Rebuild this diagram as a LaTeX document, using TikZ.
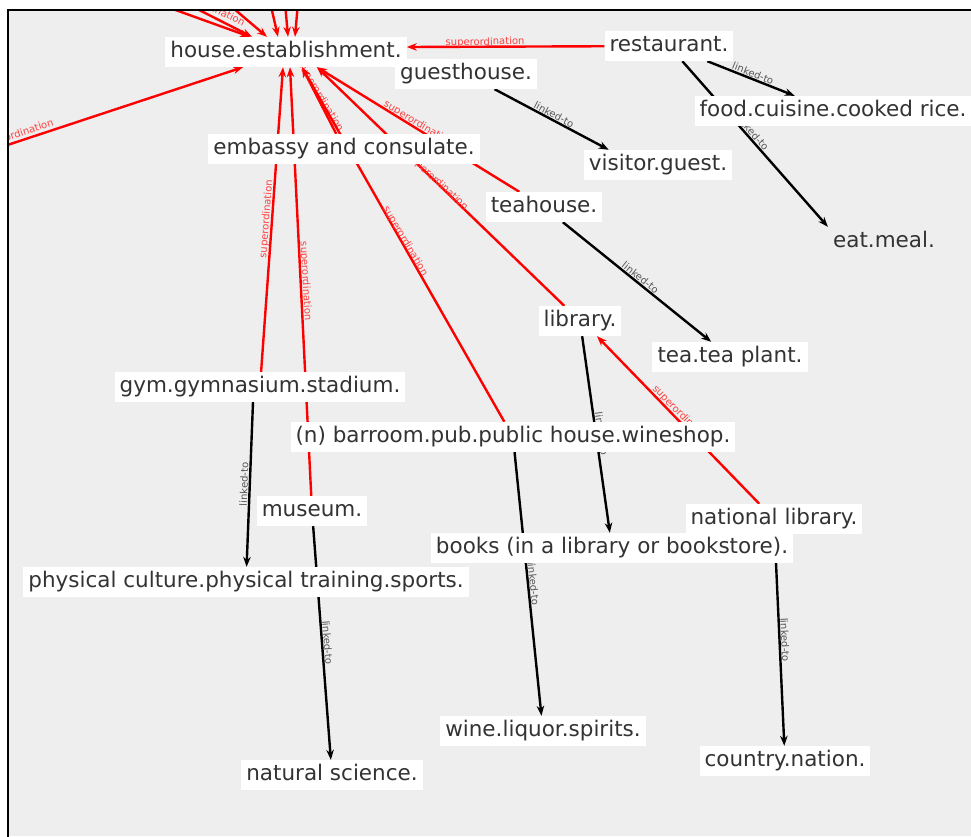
\documentclass[tikz,border=0pt]{standalone}
\usepackage{fontspec}
\setmainfont{DejaVu Sans}
\usetikzlibrary{arrows.meta}
\pgfdeclarelayer{bg}
\pgfdeclarelayer{edges}
\pgfsetlayers{bg,edges,main}
\definecolor{bggray}{HTML}{EEEEEE}
\definecolor{txt}{HTML}{333333}
\definecolor{suplab}{HTML}{FF4040}
\definecolor{linklab}{HTML}{555555}
\tikzset{
  concept/.style={fill=white, text=txt, font=\fontsize{21.5}{24}\selectfont,
    inner xsep=5pt, inner ysep=0pt, minimum height=30pt, text height=16pt, text depth=5pt, yshift=-2pt},
  plainconcept/.style={concept, fill=none},
  sup/.style={draw=red, line width=2.4pt, -{Stealth[length=10pt,width=7.5pt]}},
  link/.style={draw=black, line width=2.4pt, -{Stealth[length=10pt,width=7.5pt]}},
  suplabel/.style={font=\fontsize{10}{11}\selectfont, text=suplab, sloped, above=1.5pt, inner sep=0pt, midway},
  linklabel/.style={font=\fontsize{10}{11}\selectfont, text=linklab, sloped, above=1.5pt, inner sep=0pt, midway}
}
\begin{document}
\begin{tikzpicture}[x=1pt,y=-1pt]
\useasboundingbox (0,0) rectangle (971,836);
\begin{pgfonlayer}{bg}
  \fill[bggray] (8,10) rectangle (971,836);
\end{pgfonlayer}

% nodes
\node[concept] (house) at (286,50) {house.establishment.};
\node[concept] (restaurant) at (669,44) {restaurant.};
\node[concept] (guesthouse) at (466,72) {guesthouse.};
\node[concept] (food) at (833,109) {food.cuisine.cooked rice.};
\node[concept] (embassy) at (344,147) {embassy and consulate.};
\node[concept] (visitor) at (658,163) {visitor.guest.};
\node[concept] (teahouse) at (544,205) {teahouse.};
\node[plainconcept] (eat) at (884,240) {eat.meal.};
\node[concept] (library) at (580,319) {library.};
\node[concept] (tea) at (730,355) {tea.tea plant.};
\node[concept] (gym) at (260,385) {gym.gymnasium.stadium.};
\node[concept] (barroom) at (513,435) {(n) barroom.pub.public house.wineshop.};
\node[concept] (museum) at (312,509) {museum.};
\node[concept] (natlib) at (774,517) {national library.};
\node[concept] (books) at (612,546) {books (in a library or bookstore).};
\node[concept] (physical) at (246,580) {physical culture.physical training.sports.};
\node[concept] (wine) at (543,729) {wine.liquor.spirits.};
\node[concept] (country) at (785,759) {country.nation.};
\node[concept] (natural) at (332,773) {natural science.};

% off-frame ends
\coordinate (t1) at (120,-10);
\coordinate (t2) at (140,-20);
\coordinate (t3) at (200,-20);
\coordinate (t4) at (265,-20);
\coordinate (t5) at (283,-20);
\coordinate (t6) at (300,-20);
\coordinate (lft) at (-150,197);
\coordinate (visC) at ([xshift=-21pt]visitor.center);
\coordinate (gymC) at ([xshift=-7pt]gym.center);

\begin{pgfonlayer}{edges}
\begin{scope}
\clip (8,10) rectangle (971,836);
% superordination edges
\draw[sup] (t1) -- ([xshift=-36pt]house.north);
\draw[sup] (t2) -- ([xshift=-34pt]house.north);
\draw[sup] (t3) -- ([xshift=-19pt]house.north);
\draw[sup] (t4) -- ([xshift=-8pt]house.north);
\draw[sup] (t5) -- ([xshift=2pt]house.north);
\draw[sup] (t6) -- ([xshift=9pt]house.north);
\path (t2) -- (house.center) node[suplabel,pos=0.45] {superordination};
\draw[sup] (lft) -- ([xshift=-43pt]house.south);
\path (lft) -- (house.center) node[suplabel,pos=0.385] {superordination};
\draw[sup] (restaurant) -- ([yshift=5pt]house.east);
\path (restaurant.center) -- (house.center) node[suplabel,pos=0.48] {superordination};
\draw[sup] (embassy) -- ([xshift=16pt]house.south);
\path (embassy.center) -- (house.center) node[suplabel] {superordination};
\draw[sup] (teahouse) -- ([xshift=31pt]house.south);
\path (teahouse.center) -- (house.center) node[suplabel] {superordination};
\draw[sup] (library) -- ([xshift=31pt]house.south);
\path (library.center) -- (house.center) node[suplabel] {superordination};
\draw[sup] (barroom) -- ([xshift=16pt]house.south);
\path (barroom.center) -- (house.center) node[suplabel] {superordination};
\draw[sup] (gym) -- ([xshift=-3pt]house.south);
\path (gym.center) -- (house.center) node[suplabel] {superordination};
\draw[sup] (museum) -- ([xshift=4pt]house.south);
\path (museum.center) -- (house.center) node[suplabel] {superordination};
\draw[sup] (natlib) -- ([xshift=17pt]library.south);
\path (natlib.center) -- (library.center) node[suplabel] {superordination};
% linked-to edges
\draw[link] (restaurant) -- (food);
\path (restaurant.center) -- (food.center) node[linklabel] {linked-to};
\draw[link] (restaurant) -- (eat.north west);
\path (restaurant.center) -- (eat.north west) node[linklabel] {linked-to};
\draw[link] (guesthouse) -- ([xshift=25pt]visitor.north west);
\path (guesthouse.center) -- (visC) node[linklabel] {linked-to};
\draw[link] (teahouse) -- (tea);
\path (teahouse.center) -- (tea.center) node[linklabel] {linked-to};
\draw[link] (library) -- (books);
\path (library.center) -- (books.center) node[linklabel] {linked-to};
\draw[link] ([xshift=-7pt]gym.south) -- (physical);
\path (gymC) -- (physical.center) node[linklabel] {linked-to};
\draw[link] (museum) -- (natural);
\path (museum.center) -- (natural.center) node[linklabel] {linked-to};
\draw[link] (barroom) -- (wine);
\path (barroom.center) -- (wine.center) node[linklabel] {linked-to};
\draw[link] (natlib) -- (country);
\path (natlib.center) -- (country.center) node[linklabel] {linked-to};
\end{scope}
\end{pgfonlayer}

% frame
\draw[line width=2pt, line cap=rect] (8,836) -- (8,10) -- (971,10);
\end{tikzpicture}
\end{document}
